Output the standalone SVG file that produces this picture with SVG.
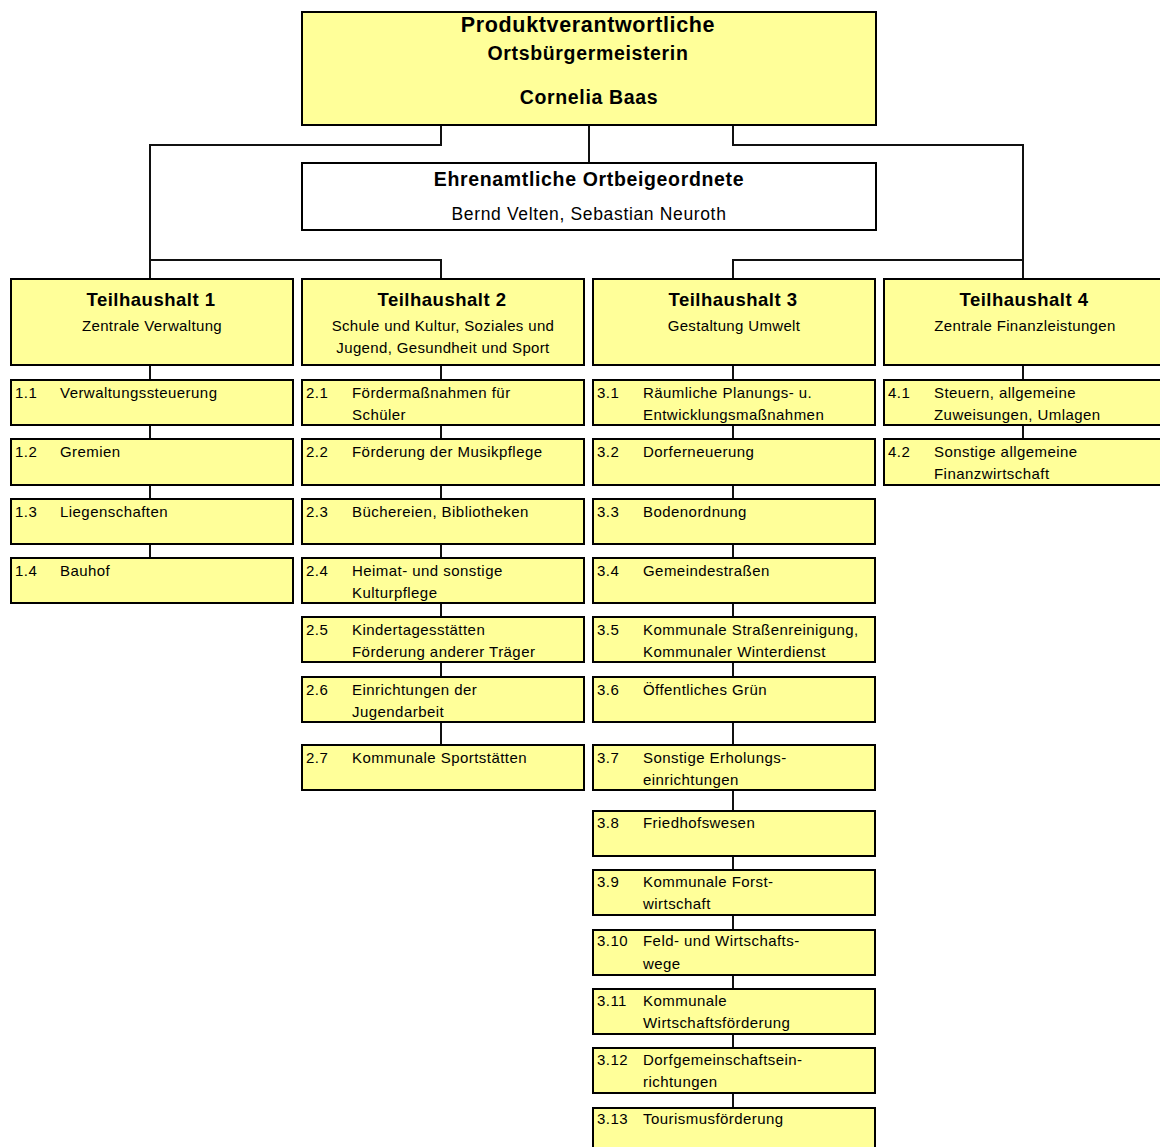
<svg xmlns="http://www.w3.org/2000/svg" width="1160" height="1147" viewBox="0 0 1160 1147">
<style>
.box{fill:#FFFF99;stroke:#000;stroke-width:2}
.wbox{fill:#FFFFFF;stroke:#000;stroke-width:2}
.con{fill:none;stroke:#111;stroke-width:2}
text{font-family:"Liberation Sans",Arial,sans-serif;fill:#000}
.t{font-size:15px;letter-spacing:0.45px}
.h{font-size:18.5px;font-weight:bold;text-anchor:middle;letter-spacing:0.5px}
.s{font-size:15px;text-anchor:middle;letter-spacing:0.35px}
.c{text-anchor:middle;letter-spacing:0.65px}
</style>
<rect width="1160" height="1147" fill="#fff"/>
<g id="connectors">
<path class="con" d="M441 125V145H150V279M733 125V145H1023V279M589 125V163M150 260H441V279M733 279V260H1023"/>
<path class="con" d="M150 365V558M441 365V745M733 365V1108M1023 365V439"/>
</g>
<g id="top">
<rect class="box" x="302" y="12" width="574" height="113"/>
<text class="c" x="588" y="32" font-size="21.5" font-weight="bold">Produktverantwortliche</text>
<text class="c" x="588" y="60" font-size="19.5" font-weight="bold">Ortsbürgermeisterin</text>
<text class="c" x="589" y="104" font-size="19.5" font-weight="bold">Cornelia Baas</text>
</g>
<g id="beigeordnete">
<rect class="wbox" x="302" y="163" width="574" height="67"/>
<text class="c" x="589" y="186" font-size="19.5" font-weight="bold">Ehrenamtliche Ortbeigeordnete</text>
<text class="c" x="589" y="220" font-size="17.5">Bernd Velten, Sebastian Neuroth</text>
</g>
<g id="th1">
<rect class="box" x="11" y="279" width="282" height="86"/>
<text class="h" x="151" y="306">Teilhaushalt 1</text>
<text class="s" x="152" y="331">Zentrale Verwaltung</text>
</g>
<g id="th2">
<rect class="box" x="302" y="279" width="282" height="86"/>
<text class="h" x="442" y="306">Teilhaushalt 2</text>
<text class="s" x="443" y="331">Schule und Kultur, Soziales und</text>
<text class="s" x="443" y="353">Jugend, Gesundheit und Sport</text>
</g>
<g id="th3">
<rect class="box" x="593" y="279" width="282" height="86"/>
<text class="h" x="733" y="306">Teilhaushalt 3</text>
<text class="s" x="734" y="331">Gestaltung Umwelt</text>
</g>
<g id="th4">
<rect class="box" x="884" y="279" width="282" height="86"/>
<text class="h" x="1024" y="306">Teilhaushalt 4</text>
<text class="s" x="1025" y="331">Zentrale Finanzleistungen</text>
</g>
<g id="i1-1"><rect class="box" x="11" y="380" width="282" height="45"/><text class="t" x="15" y="398">1.1</text><text class="t" x="60" y="398">Verwaltungssteuerung</text></g>
<g id="i1-2"><rect class="box" x="11" y="439" width="282" height="46"/><text class="t" x="15" y="457">1.2</text><text class="t" x="60" y="457">Gremien</text></g>
<g id="i1-3"><rect class="box" x="11" y="499" width="282" height="45"/><text class="t" x="15" y="517">1.3</text><text class="t" x="60" y="517">Liegenschaften</text></g>
<g id="i1-4"><rect class="box" x="11" y="558" width="282" height="45"/><text class="t" x="15" y="576">1.4</text><text class="t" x="60" y="576">Bauhof</text></g>
<g id="i2-1"><rect class="box" x="302" y="380" width="282" height="45"/><text class="t" x="306" y="398">2.1</text><text class="t" x="352" y="398">Fördermaßnahmen für</text><text class="t" x="352" y="420">Schüler</text></g>
<g id="i2-2"><rect class="box" x="302" y="439" width="282" height="46"/><text class="t" x="306" y="457">2.2</text><text class="t" x="352" y="457">Förderung der Musikpflege</text></g>
<g id="i2-3"><rect class="box" x="302" y="499" width="282" height="45"/><text class="t" x="306" y="517">2.3</text><text class="t" x="352" y="517">Büchereien, Bibliotheken</text></g>
<g id="i2-4"><rect class="box" x="302" y="558" width="282" height="45"/><text class="t" x="306" y="576">2.4</text><text class="t" x="352" y="576">Heimat- und sonstige</text><text class="t" x="352" y="598">Kulturpflege</text></g>
<g id="i2-5"><rect class="box" x="302" y="617" width="282" height="45"/><text class="t" x="306" y="635">2.5</text><text class="t" x="352" y="635">Kindertagesstätten</text><text class="t" x="352" y="657">Förderung anderer Träger</text></g>
<g id="i2-6"><rect class="box" x="302" y="677" width="282" height="45"/><text class="t" x="306" y="695">2.6</text><text class="t" x="352" y="695">Einrichtungen der</text><text class="t" x="352" y="717">Jugendarbeit</text></g>
<g id="i2-7"><rect class="box" x="302" y="745" width="282" height="45"/><text class="t" x="306" y="763">2.7</text><text class="t" x="352" y="763">Kommunale Sportstätten</text></g>
<g id="i3-1"><rect class="box" x="593" y="380" width="282" height="45"/><text class="t" x="597" y="398">3.1</text><text class="t" x="643" y="398">Räumliche Planungs- u.</text><text class="t" x="643" y="420">Entwicklungsmaßnahmen</text></g>
<g id="i3-2"><rect class="box" x="593" y="439" width="282" height="46"/><text class="t" x="597" y="457">3.2</text><text class="t" x="643" y="457">Dorferneuerung</text></g>
<g id="i3-3"><rect class="box" x="593" y="499" width="282" height="45"/><text class="t" x="597" y="517">3.3</text><text class="t" x="643" y="517">Bodenordnung</text></g>
<g id="i3-4"><rect class="box" x="593" y="558" width="282" height="45"/><text class="t" x="597" y="576">3.4</text><text class="t" x="643" y="576">Gemeindestraßen</text></g>
<g id="i3-5"><rect class="box" x="593" y="617" width="282" height="45"/><text class="t" x="597" y="635">3.5</text><text class="t" x="643" y="635">Kommunale Straßenreinigung,</text><text class="t" x="643" y="657">Kommunaler Winterdienst</text></g>
<g id="i3-6"><rect class="box" x="593" y="677" width="282" height="45"/><text class="t" x="597" y="695">3.6</text><text class="t" x="643" y="695">Öffentliches Grün</text></g>
<g id="i3-7"><rect class="box" x="593" y="745" width="282" height="45"/><text class="t" x="597" y="763">3.7</text><text class="t" x="643" y="763">Sonstige Erholungs-</text><text class="t" x="643" y="785">einrichtungen</text></g>
<g id="i3-8"><rect class="box" x="593" y="811" width="282" height="45"/><text class="t" x="597" y="828">3.8</text><text class="t" x="643" y="828">Friedhofswesen</text></g>
<g id="i3-9"><rect class="box" x="593" y="870" width="282" height="45"/><text class="t" x="597" y="887">3.9</text><text class="t" x="643" y="887">Kommunale Forst-</text><text class="t" x="643" y="909">wirtschaft</text></g>
<g id="i3-10"><rect class="box" x="593" y="930" width="282" height="45"/><text class="t" x="597" y="946">3.10</text><text class="t" x="643" y="946">Feld- und Wirtschafts-</text><text class="t" x="643" y="969">wege</text></g>
<g id="i3-11"><rect class="box" x="593" y="989" width="282" height="45"/><text class="t" x="597" y="1006">3.11</text><text class="t" x="643" y="1006">Kommunale</text><text class="t" x="643" y="1028">Wirtschaftsförderung</text></g>
<g id="i3-12"><rect class="box" x="593" y="1048" width="282" height="45"/><text class="t" x="597" y="1065">3.12</text><text class="t" x="643" y="1065">Dorfgemeinschaftsein-</text><text class="t" x="643" y="1087">richtungen</text></g>
<g id="i3-13"><rect class="box" x="593" y="1108" width="282" height="45"/><text class="t" x="597" y="1124">3.13</text><text class="t" x="643" y="1124">Tourismusförderung</text></g>
<g id="i4-1"><rect class="box" x="884" y="380" width="282" height="45"/><text class="t" x="888" y="398">4.1</text><text class="t" x="934" y="398">Steuern, allgemeine</text><text class="t" x="934" y="420">Zuweisungen, Umlagen</text></g>
<g id="i4-2"><rect class="box" x="884" y="439" width="282" height="46"/><text class="t" x="888" y="457">4.2</text><text class="t" x="934" y="457">Sonstige allgemeine</text><text class="t" x="934" y="479">Finanzwirtschaft</text></g>
</svg>
